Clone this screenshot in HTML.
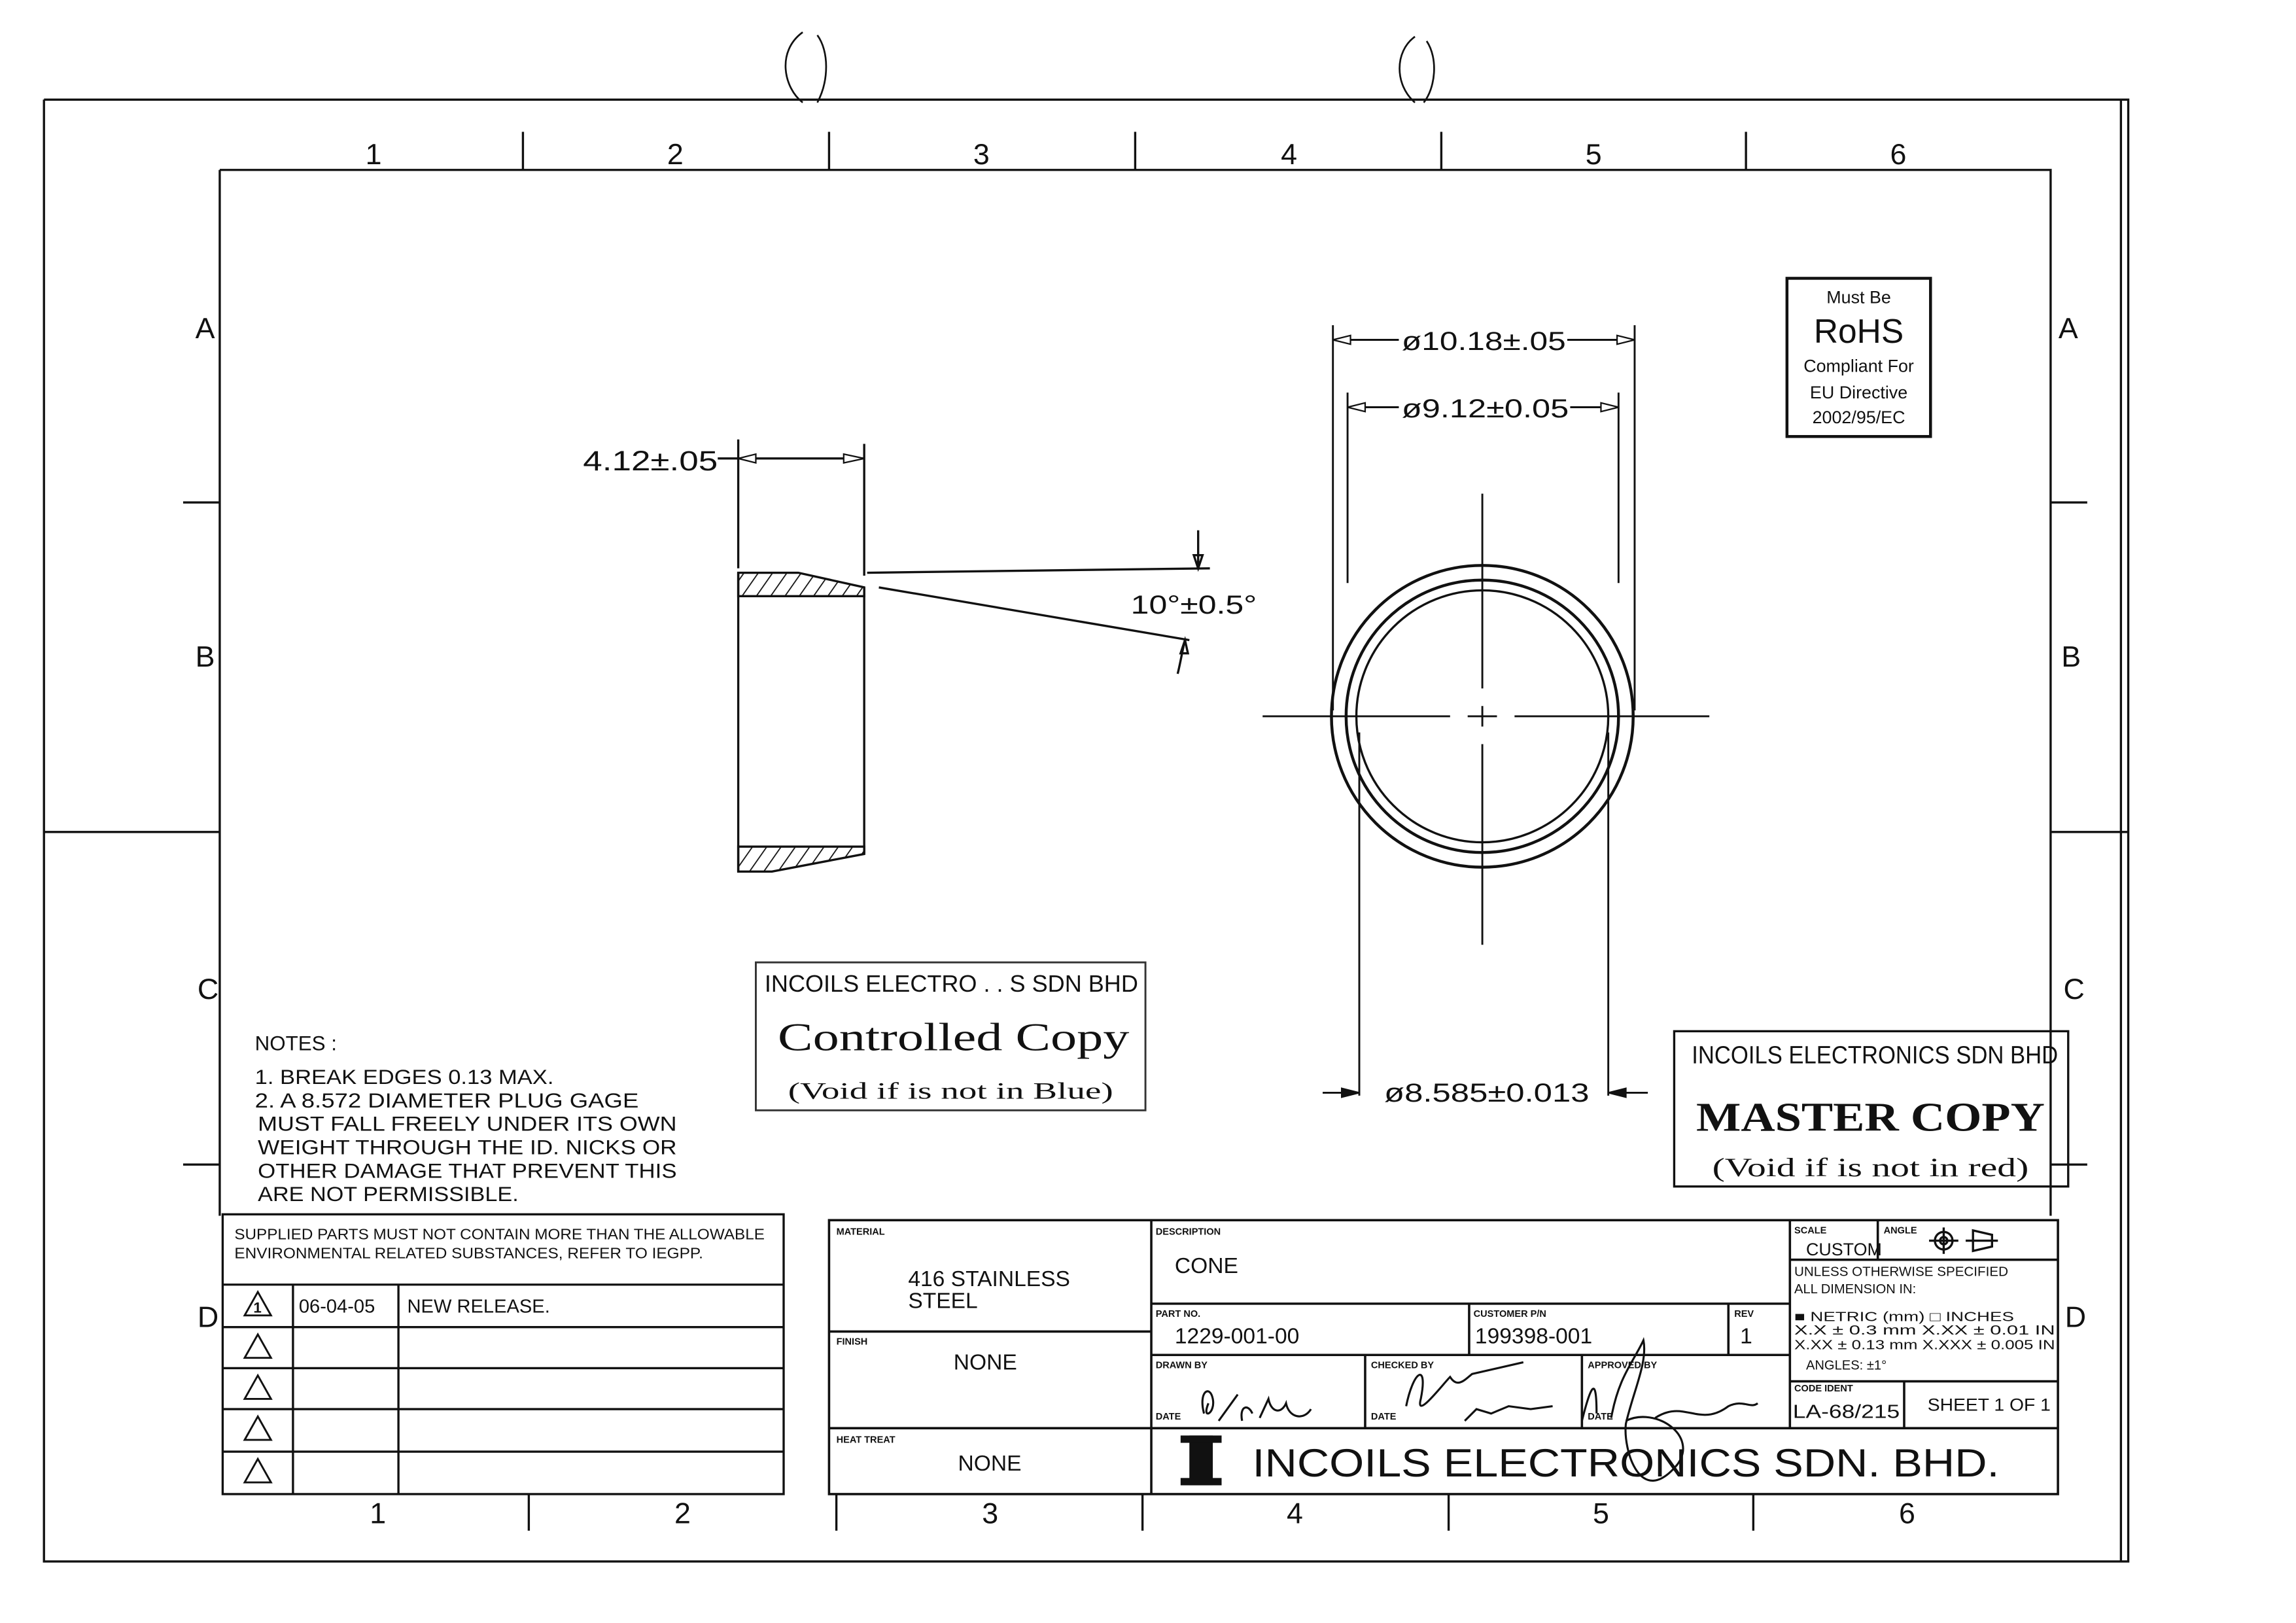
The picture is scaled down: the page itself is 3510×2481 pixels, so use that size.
<!DOCTYPE html>
<html><head><meta charset="utf-8"><style>
html,body{margin:0;padding:0;background:#fff;}
svg{display:block;}
text{font-family:"Liberation Sans",sans-serif;fill:#111;}
.m{font-family:"Liberation Sans Narrow","Liberation Sans",sans-serif;}
.s{font-family:"Liberation Serif",serif;}
</style></head><body>
<svg width="3510" height="2481" viewBox="0 0 1567.5 1108" xmlns="http://www.w3.org/2000/svg">
<defs>
<pattern id="h" width="8" height="8" patternUnits="userSpaceOnUse" patternTransform="rotate(35)">
<line x1="0" y1="0" x2="0" y2="8" stroke="#111" stroke-width="1.6"/>
</pattern>
</defs>
<rect width="1570" height="1110" fill="#fff"/>
<g fill="none" stroke="#111" stroke-width="1.5">
<path d="M30 68 H1448 V1066 M30 68 V1066 H1453 V68 H1448"/>
<path d="M150 116 H1400 V830 M150 116 V830"/>
<path d="M357 90V116 M566 90V116 M775 90V116 M984 90V116 M1192 90V116"/>
<path d="M361 1020V1045 M571 1020V1045 M780 1020V1045 M989 1020V1045 M1197 1020V1045"/>
<path d="M125 343H150 M1400 343H1425 M30 568H150 M1400 568H1453 M125 795H150 M1400 795H1425"/>
<path d="M548 70 C535 60 530 35 548 22 M558 24 C566 35 566 55 558 70" stroke-width="1.2"/>
<path d="M966 70 C952 58 952 35 966 25 M974 28 C982 40 980 60 972 70" stroke-width="1.2"/>
</g>
<g font-size="20" text-anchor="middle">
<text x="255" y="112">1</text><text x="461" y="112">2</text><text x="670" y="112">3</text><text x="880" y="112">4</text><text x="1088" y="112">5</text><text x="1296" y="112">6</text>
<text x="258" y="1040">1</text><text x="466" y="1040">2</text><text x="676" y="1040">3</text><text x="884" y="1040">4</text><text x="1093" y="1040">5</text><text x="1302" y="1040">6</text>
<text x="140" y="231">A</text><text x="140" y="455">B</text><text x="142" y="682">C</text><text x="142" y="906">D</text>
<text x="1412" y="231">A</text><text x="1414" y="455">B</text><text x="1416" y="682">C</text><text x="1417" y="906">D</text>
</g>

<path d="M504 391 H545 L590 401 V407 H504 Z" fill="url(#h)" stroke="#111" stroke-width="1.5"/>
<path d="M504 578 H590 V583 L527 595 H504 Z" fill="url(#h)" stroke="#111" stroke-width="1.5"/>
<g fill="none" stroke="#111" stroke-width="1.5">
<path d="M504 391 V595 M590 401 V583"/>
<path d="M504 300 V388 M590 303 V393"/>
<path d="M490 313 H590"/>
<path d="M504 313 l12 -3 v6 z M590 313 l-14 -3 v6 z" fill="#fff" stroke-width="1"/>
<path d="M592 391 L826 388"/>
<path d="M818 362 V388 M818 388 l-3 -9 h6 z"/>
<path d="M600 401 L812 437"/>
<path d="M809 437 C807 445 806 452 804 460 M809 437 l-3 9 h5 z"/>
</g>
<text x="398" y="321" font-size="19" class="m" textLength="92" lengthAdjust="spacingAndGlyphs">4.12±.05</text>
<text x="772" y="419" font-size="18" textLength="86" lengthAdjust="spacingAndGlyphs">10°±0.5°</text>

<g fill="none" stroke="#111">
<circle cx="1012" cy="489" r="103" stroke-width="2"/>
<circle cx="1012" cy="489" r="93" stroke-width="2"/>
<circle cx="1012" cy="489" r="86" stroke-width="1.5"/>
<path d="M862 489 H990 M1002 489 H1022 M1034 489 H1167" stroke-width="1.3"/>
<path d="M1012 337 V470 M1012 482 V496 M1012 508 V645" stroke-width="1.3"/>
<path d="M910 222 V485 M1116 222 V485" stroke-width="1.3"/>
<path d="M920 268 V398 M1105 268 V398" stroke-width="1.3"/>
<path d="M928 500 V748 M1098 500 V748" stroke-width="1.3"/>
<path d="M910 232 H955 M1070 232 H1116 M920 278 H955 M1072 278 H1105" stroke-width="1.3"/>
<path d="M910 232 l12 -3 v6z M1116 232 l-12 -3 v6z M920 278 l12 -3 v6z M1105 278 l-12 -3 v6z" fill="#fff" stroke-width="1"/>
<path d="M903 746 H928 M1098 746 H1125" stroke-width="1.3"/>
<path d="M928 746 l-12 -3 v6z M1098 746 l12 -3 v6z" fill="#111"/>
</g>
<text x="957" y="239" font-size="18" textLength="112" lengthAdjust="spacingAndGlyphs">ø10.18±.05</text>
<text x="957" y="285" font-size="18" textLength="114" lengthAdjust="spacingAndGlyphs">ø9.12±0.05</text>
<text x="945" y="752" font-size="18" textLength="140" lengthAdjust="spacingAndGlyphs">ø8.585±0.013</text>

<rect x="1220" y="190" width="98" height="108" fill="none" stroke="#111" stroke-width="2"/>
<g text-anchor="middle">
<text x="1269" y="207" font-size="12">Must Be</text>
<text x="1269" y="234" font-size="23">RoHS</text>
<text x="1269" y="254" font-size="12">Compliant For</text>
<text x="1269" y="272" font-size="12">EU Directive</text>
<text x="1269" y="289" font-size="12">2002/95/EC</text>
</g>

<rect x="516" y="657" width="266" height="101" fill="none" stroke="#333" stroke-width="1.3"/>
<text x="522" y="677" font-size="16" class="m" fill="#444" textLength="255" lengthAdjust="spacingAndGlyphs">INCOILS ELECTRO . . S SDN BHD</text>
<text x="531" y="717" font-size="27" class="s" fill="#555" textLength="240" lengthAdjust="spacingAndGlyphs">Controlled Copy</text>
<text x="538" y="750" font-size="16" class="s" fill="#555" textLength="222" lengthAdjust="spacingAndGlyphs">(Void if is not in Blue)</text>
<rect x="1143" y="704" width="269" height="106" fill="none" stroke="#111" stroke-width="1.5"/>
<text x="1155" y="726" font-size="17" class="m" textLength="250" lengthAdjust="spacingAndGlyphs">INCOILS ELECTRONICS SDN BHD</text>
<text x="1158" y="772" font-size="28" class="s" font-weight="bold" textLength="238" lengthAdjust="spacingAndGlyphs">MASTER COPY</text>
<text x="1169" y="803" font-size="18" class="s" textLength="216" lengthAdjust="spacingAndGlyphs">(Void if is not in red)</text>

<g font-size="14" class="m">
<text x="174" y="717">NOTES :</text>
<text x="174" y="740" textLength="204" lengthAdjust="spacingAndGlyphs">1. BREAK EDGES 0.13 MAX.</text>
<text x="174" y="756" textLength="262" lengthAdjust="spacingAndGlyphs">2. A 8.572 DIAMETER PLUG GAGE</text>
<text x="176" y="772" textLength="286" lengthAdjust="spacingAndGlyphs">MUST FALL FREELY UNDER ITS OWN</text>
<text x="176" y="788" textLength="286" lengthAdjust="spacingAndGlyphs">WEIGHT THROUGH THE ID. NICKS OR</text>
<text x="176" y="804" textLength="286" lengthAdjust="spacingAndGlyphs">OTHER DAMAGE THAT PREVENT THIS</text>
<text x="176" y="820" textLength="178" lengthAdjust="spacingAndGlyphs">ARE NOT PERMISSIBLE.</text>
</g>

<g fill="none" stroke="#111" stroke-width="1.5">
<rect x="152" y="829" width="383" height="191"/>
<path d="M152 877 H535 M152 906 H535 M152 934 H535 M152 962 H535 M152 991 H535"/>
<path d="M200 877 V1020 M272 877 V1020"/>
<g stroke-width="1.3">
<path d="M176 882 l-9 16 h18 z M176 911 l-9 16 h18 z M176 939 l-9 16 h18 z M176 967 l-9 16 h18 z M176 996 l-9 16 h18 z"/>
</g>
</g>
<text x="173" y="896" font-size="10" font-weight="bold">1</text>
<text x="160" y="846" font-size="10.5" class="m" textLength="362" lengthAdjust="spacingAndGlyphs">SUPPLIED PARTS MUST NOT CONTAIN MORE THAN THE ALLOWABLE</text>
<text x="160" y="859" font-size="10.5" class="m" textLength="320" lengthAdjust="spacingAndGlyphs">ENVIRONMENTAL RELATED SUBSTANCES, REFER TO IEGPP.</text>
<text x="204" y="896" font-size="13" class="m">06-04-05</text>
<text x="278" y="896" font-size="13" class="m">NEW RELEASE.</text>

<g fill="none" stroke="#111" stroke-width="1.6">
<rect x="566" y="833" width="839" height="187"/>
<path d="M786 833 V1020 M566 909 H786 M566 975 H1405"/>
<path d="M786 890 H1222 M786 925 H1222 M1003 890 V925 M1180 890 V925"/>
<path d="M932 925 V975 M1080 925 V975"/>
<path d="M1222 833 V975 M1222 860 H1405 M1282 833 V860 M1222 943 H1405 M1300 943 V975"/>
</g>
<g font-size="6.5" font-weight="bold">
<text x="571" y="843">MATERIAL</text>
<text x="571" y="918">FINISH</text>
<text x="571" y="985">HEAT TREAT</text>
<text x="789" y="843">DESCRIPTION</text>
<text x="789" y="899">PART NO.</text>
<text x="1006" y="899">CUSTOMER P/N</text>
<text x="1184" y="899">REV</text>
<text x="789" y="934">DRAWN BY</text>
<text x="936" y="934">CHECKED BY</text>
<text x="1084" y="934">APPROVED BY</text>
<text x="789" y="969">DATE</text>
<text x="936" y="969">DATE</text>
<text x="1084" y="969">DATE</text>
<text x="1225" y="842">SCALE</text>
<text x="1286" y="842">ANGLE</text>
<text x="1225" y="950">CODE IDENT</text>
</g>
<g font-size="15" class="m">
<text x="620" y="878">416 STAINLESS</text>
<text x="620" y="893">STEEL</text>
<text x="651" y="935">NONE</text>
<text x="654" y="1004">NONE</text>
<text x="802" y="869">CONE</text>
<text x="802" y="917">1229-001-00</text>
<text x="1007" y="917">199398-001</text>
<text x="1188" y="917">1</text>
<text x="1233" y="857" font-size="12">CUSTOM</text>
<text x="1225" y="871" font-size="9" textLength="146" lengthAdjust="spacingAndGlyphs">UNLESS OTHERWISE SPECIFIED</text>
<text x="1225" y="883" font-size="9">ALL DIMENSION IN:</text>
<text x="1225" y="902" font-size="9" textLength="150" lengthAdjust="spacingAndGlyphs">■ NETRIC (mm)   □ INCHES</text>
<text x="1225" y="911" font-size="9" textLength="178" lengthAdjust="spacingAndGlyphs">X.X  ± 0.3 mm   X.XX  ± 0.01 IN</text>
<text x="1225" y="921" font-size="9" textLength="178" lengthAdjust="spacingAndGlyphs">X.XX ± 0.13 mm  X.XXX ± 0.005 IN</text>
<text x="1233" y="935" font-size="9">ANGLES: ±1°</text>
<text x="1224" y="968" font-size="13" textLength="73" lengthAdjust="spacingAndGlyphs">LA-68/215</text>
<text x="1316" y="963" font-size="12" textLength="84" lengthAdjust="spacingAndGlyphs">SHEET 1 OF 1</text>
<text x="855" y="1008" font-size="27" textLength="510" lengthAdjust="spacingAndGlyphs">INCOILS ELECTRONICS SDN. BHD.</text>
</g>
<rect x="812" y="980" width="16" height="34" fill="#111"/>
<rect x="806" y="980" width="28" height="5" fill="#111"/><rect x="806" y="1009" width="28" height="5" fill="#111"/>
<g fill="none" stroke="#111" stroke-width="1.5">
<circle cx="1327" cy="847" r="6"/><circle cx="1327" cy="847" r="2.5"/>
<path d="M1317 847 H1337 M1327 838 V856"/>
<path d="M1347 840 V854 L1360 851 V843 Z M1342 847 H1364"/>
</g>
<g fill="none" stroke="#111" stroke-width="1.4">
<path d="M822 965 C818 950 826 945 828 955 C830 965 820 970 825 958 M832 970 L845 952 M848 970 C846 960 852 958 855 965 M860 968 L866 955 C868 965 875 965 878 958 C880 968 890 970 895 962"/>
<path d="M960 960 C965 935 975 930 970 955 C966 970 985 945 990 940 C995 948 1000 942 1005 938 L1040 930 M1000 970 L1008 962 L1018 965 L1030 960 L1045 962 L1060 960"/>
<path d="M1080 970 C1085 950 1090 935 1090 965 M1100 968 C1105 940 1115 930 1122 915 C1125 930 1115 950 1110 972 C1108 990 1120 1030 1145 1000 C1160 980 1130 960 1110 970 M1130 968 C1150 955 1160 975 1180 960 C1190 955 1195 962 1200 958"/>
</g>
</svg>
</body></html>
